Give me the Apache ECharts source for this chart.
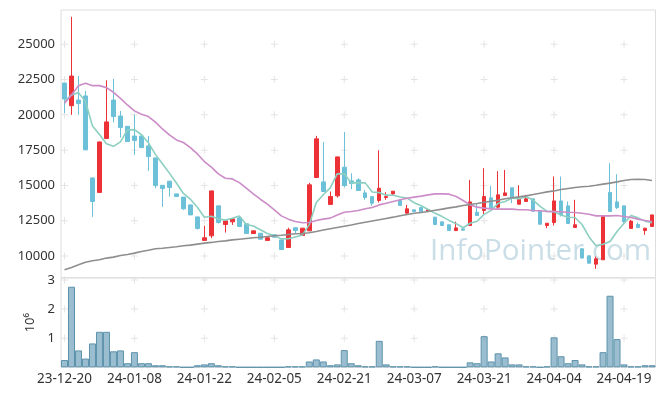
<!DOCTYPE html>
<html><head><meta charset="utf-8">
<script src="https://cdn.jsdelivr.net/npm/echarts@6/dist/echarts.min.js"></script>
<style>html,body{margin:0;padding:0;background:#fff}#c{width:665px;height:396px}</style>
</head><body><div id="c"></div>
<script>
const dates = ['23-12-20','23-12-21','23-12-22','23-12-26','23-12-27','23-12-28',
'24-01-02','24-01-03','24-01-04','24-01-05','24-01-08','24-01-09','24-01-10','24-01-11','24-01-12','24-01-15','24-01-16','24-01-17','24-01-18','24-01-19','24-01-22','24-01-23','24-01-24','24-01-25','24-01-26','24-01-29','24-01-30','24-01-31',
'24-02-01','24-02-02','24-02-05','24-02-06','24-02-07','24-02-08','24-02-13','24-02-14','24-02-15','24-02-16','24-02-19','24-02-20','24-02-21','24-02-22','24-02-23','24-02-26','24-02-27','24-02-28','24-02-29',
'24-03-04','24-03-05','24-03-06','24-03-07','24-03-08','24-03-11','24-03-12','24-03-13','24-03-14','24-03-15','24-03-18','24-03-19','24-03-20','24-03-21','24-03-22','24-03-25','24-03-26','24-03-27','24-03-28','24-03-29',
'24-04-01','24-04-02','24-04-03','24-04-04','24-04-05','24-04-08','24-04-09','24-04-11','24-04-12','24-04-15','24-04-16','24-04-17','24-04-18','24-04-19','24-04-22','24-04-23','24-04-24','24-04-25'];

const open  = [22250,20650,21050,21340,15530,14500,18320,21050,19920,19190,18500,18500,17800,16950,15010,15300,14400,14170,13620,12770,11100,11430,13550,12230,12420,12700,12280,11590,11610,11100,11500,11140,10600,12000,11450,11780,15560,15250,13650,14260,16290,15320,15390,14470,14210,13930,14140,14400,13930,13030,13270,13430,13150,12750,12420,12210,11800,11920,12160,13100,13220,14120,13460,14280,14830,13670,13860,14050,13220,12160,12370,13900,13550,12020,10510,10010,9420,9730,14500,13830,13550,11950,12230,11800,12090];
const close = [21120,22750,20800,17520,13860,18080,19500,19880,19100,18110,18180,17680,17040,14990,14780,14850,14210,13340,12910,11950,11290,14610,12370,12490,12630,12090,11590,11780,11190,11290,11330,10460,11850,11800,11970,15040,18300,14570,14210,17020,14990,15130,14640,14140,13740,14800,14210,14590,13580,13340,13150,13130,13270,12230,12160,11800,11990,11830,13830,12870,14210,13410,14330,14470,14090,14020,14050,13170,12250,12320,13900,12910,12300,12210,9850,9490,9800,12800,13150,13430,12440,12470,12020,11970,12910];
const low   = [20130,20000,20000,17500,12770,14480,18300,19470,18390,18080,17160,17650,16030,14800,13480,14210,14200,13270,12900,11870,11090,11260,12290,11660,12200,12080,11580,11580,11180,11090,11320,10450,10590,11570,11440,11770,15550,14560,13640,14140,14870,14730,14630,13980,13550,13790,13980,14260,13570,13020,13140,13120,13140,12220,12150,11790,11790,11820,12150,12860,12960,13400,13270,14270,13740,13660,13850,13160,12240,11970,12160,12800,12290,12010,9840,9480,9090,9720,13140,13320,12320,11940,12010,11500,12080];
const high  = [22250,26950,22750,21700,15550,18100,22450,22550,20280,19200,20000,18550,18500,16960,15020,15300,14410,14180,13630,12780,12140,14620,13560,12500,12640,12800,12290,11790,11620,11400,11510,11150,12000,12010,11990,15180,18510,18080,14570,17030,18790,15860,15510,14680,14220,17490,14520,14600,13940,13620,13280,13440,13280,12760,12430,12220,12440,11930,15390,13740,16220,14970,16010,16100,14840,15010,14330,14060,13230,12330,15630,15630,13860,13980,10520,10020,9960,12810,16570,15790,13560,12560,12370,11980,12920];

const ma5  = [20950,21410,21575,20940,19210,18600,17950,17770,18080,18930,18950,18590,18020,17200,16530,15870,15170,14430,14020,13450,12740,12820,12630,12540,12680,12840,12230,12120,11860,11590,11440,11210,11220,11350,11480,12220,13790,14340,14820,15830,15820,15180,15200,15180,14530,14490,14310,14300,14180,14100,13770,13560,13290,13020,12790,12520,12290,12000,12320,12460,12950,13230,13730,13860,14100,14060,14190,13960,13520,13160,13140,12910,12740,12730,12230,11350,10730,10830,11020,11730,12320,12860,12700,12470,12360];
const ma20 = [20820,21410,22070,22240,22070,22070,21930,21600,21170,20700,20280,20040,19880,19480,19000,18580,18220,18040,17680,17230,16690,16290,15820,15510,15460,15200,14800,14400,14020,13670,13270,12840,12610,12440,12350,12370,12510,12610,12680,12910,13100,13150,13220,13340,13430,13620,13740,13860,13980,14090,14170,14240,14330,14400,14400,14380,14210,13930,13620,13460,13390,13340,13320,13320,13320,13270,13270,13220,13200,13150,13150,13130,13100,13080,13030,12960,12840,12840,12840,12870,12800,12730,12610,12510,12440];
const ma60 = [9020,9185,9370,9560,9660,9730,9850,9920,10030,10110,10200,10320,10410,10510,10550,10600,10650,10720,10770,10840,10910,10960,11030,11070,11140,11190,11240,11290,11330,11380,11430,11470,11520,11570,11590,11650,11740,11840,11930,12020,12110,12200,12300,12390,12480,12570,12660,12750,12850,12940,13030,13080,13150,13240,13320,13410,13480,13580,13650,13720,13810,13880,13950,14050,14120,14190,14260,14350,14450,14540,14610,14710,14780,14850,14900,14940,15010,15090,15160,15250,15350,15420,15440,15420,15350];

// volume in millions of shares (axis unit 10^6)
const volume = [0.25,2.77,0.58,0.30,0.82,1.22,1.22,0.55,0.58,0.14,0.52,0.14,0.14,0.07,0.07,0.03,0.03,0,0,0.07,0.10,0.14,0.07,0.03,0.03,0,0,0,0,0,0,0,0.03,0.03,0.03,0.20,0.27,0.20,0.07,0.10,0.59,0.14,0.07,0.03,0.03,0.91,0.10,0.03,0.03,0.03,0,0,0,0.03,0,0,0,0,0.17,0.14,1.07,0.20,0.48,0.34,0.10,0.10,0.03,0.03,0,0.03,1.03,0.38,0.14,0.25,0.10,0.03,0.03,0.52,2.46,0.97,0.10,0.03,0.03,0.07,0.07];

const priceTicks = [10000,12500,15000,17500,20000,22500,25000];
const volumeTicks = [1,2,3];
const labelEvery = 10;

const FONT = '"Noto Sans", "DejaVu Sans", sans-serif';
const gridDates = dates.filter((d,i)=> i % labelEvery === 0);
const crossPrice = [];
gridDates.forEach(d => priceTicks.forEach(v => crossPrice.push([d, v])));
const crossVol = [];
gridDates.forEach(d => volumeTicks.forEach(v => crossVol.push([d, v])));
const plus = 'path://M3,0H4V7H3Z M0,3H7V4H0Z';

const chart = echarts.init(document.getElementById('c'), null, {renderer:'canvas'});
chart.setOption({
  animation:false,
  backgroundColor:'#fff',
  grid:[
    {left:61, top:10, width:594.5, height:267.7, show:true, borderColor:'#dedede', borderWidth:1, backgroundColor:'transparent'},
    {left:61, top:278, width:594.5, height:89.3, show:true, borderColor:'#dedede', borderWidth:1, backgroundColor:'transparent'}
  ],
  graphic:[{type:'text', left:430, top:237, z:0, silent:true,
    style:{text:'InfoPointer.com', fontSize:29.5, fontFamily:'"Open Sans", sans-serif', fill:'rgba(150,190,210,0.5)'}}],
  xAxis:[
    {type:'category', gridIndex:0, data:dates, boundaryGap:true, axisLine:{show:false}, axisTick:{show:false}, axisLabel:{show:false}, splitLine:{show:false}},
    {type:'category', gridIndex:1, data:dates, boundaryGap:true, axisLine:{show:false}, axisTick:{show:false}, splitLine:{show:false},
     axisLabel:{interval:labelEvery-1, fontSize:13.5, color:'#333', margin:5, fontFamily:FONT}}
  ],
  yAxis:[
    {type:'value', gridIndex:0, min:8460, max:27430, axisLine:{show:false}, axisTick:{show:false, customValues:priceTicks}, splitLine:{show:false},
     axisLabel:{customValues:priceTicks, fontSize:13, color:'#333', margin:6, fontFamily:FONT, formatter:v => String(v)}},
    {type:'value', gridIndex:1, min:0, max:3.07, interval:1, axisLine:{show:false}, axisTick:{show:false}, splitLine:{show:false},
     axisLabel:{fontSize:13, color:'#333', margin:6, fontFamily:FONT, formatter:v => (Number.isInteger(v) && v>0) ? String(v) : ''},
     name:'10\u2076', nameLocation:'middle', nameGap:24, nameRotate:90, nameTextStyle:{fontSize:13, color:'#333', fontFamily:FONT}}
  ],
  series:[
    {type:'scatter', xAxisIndex:0, yAxisIndex:0, data:crossPrice, symbol:plus, symbolSize:7, silent:true, z:1, itemStyle:{color:'#dddddd'}},
    {type:'scatter', xAxisIndex:1, yAxisIndex:1, data:crossVol, symbol:plus, symbolSize:7, silent:true, z:1, itemStyle:{color:'#dddddd'}},
    {type:'candlestick', xAxisIndex:0, yAxisIndex:0, barWidth:4,
     data: dates.map((d,i)=>[open[i], close[i], low[i], high[i]]),
     itemStyle:{color:'#ec3237', color0:'#6cc0d8', borderColor:'#ec3237', borderColor0:'#6cc0d8', borderWidth:1}},
    {type:'line', xAxisIndex:0, yAxisIndex:0, data:ma5, symbol:'none', lineStyle:{color:'#8ccfc1', width:1.6}},
    {type:'line', xAxisIndex:0, yAxisIndex:0, data:ma20, symbol:'none', lineStyle:{color:'#cc8cc8', width:1.6}},
    {type:'line', xAxisIndex:0, yAxisIndex:0, data:ma60, symbol:'none', lineStyle:{color:'#8e8e8e', width:1.6}},
    {type:'bar', xAxisIndex:1, yAxisIndex:1, data:volume, barWidth:'100%',
     itemStyle:{color:'rgba(120,168,192,0.75)', borderColor:'#5d92ab', borderWidth:1}}
  ]
});
</script></body></html>
